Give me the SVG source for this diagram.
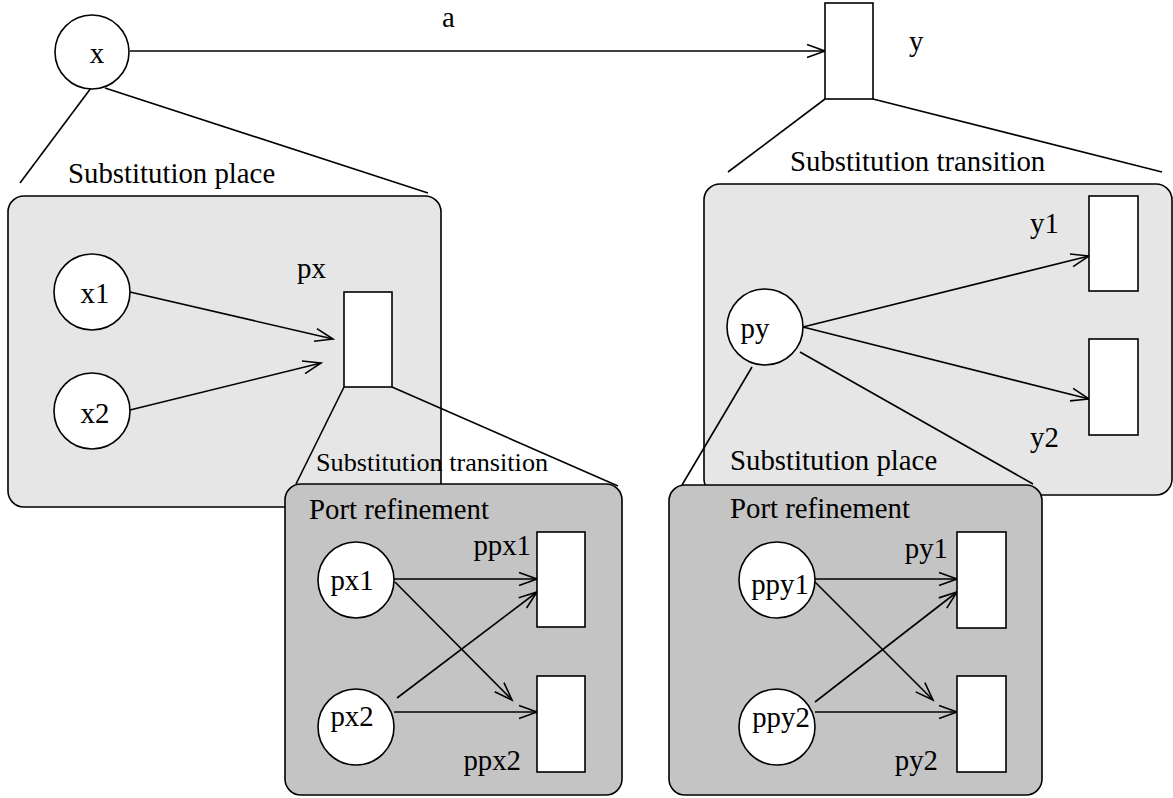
<svg xmlns="http://www.w3.org/2000/svg" width="1173" height="798" viewBox="0 0 1173 798">
<style>
text{font-family:"Liberation Serif","Times New Roman",serif;font-size:28.8px;fill:#000}
.c{text-anchor:middle}
.r{text-anchor:end}
.sm{font-size:26.2px}
.pl{fill:#fff;stroke:#000;stroke-width:1.6}
.tr{fill:#fff;stroke:#000;stroke-width:1.6}
.light{fill:#e6e6e6;stroke:#000;stroke-width:1.6}
.dark{fill:#c4c4c4;stroke:#000;stroke-width:1.6}
.ln{stroke:#000;stroke-width:1.6;fill:none}
.arr{stroke:#000;stroke-width:1.6;fill:none;marker-end:url(#ah)}
</style>
<defs>
<marker id="ah" markerUnits="userSpaceOnUse" markerWidth="22" markerHeight="16" refX="19" refY="8" orient="auto">
<path d="M1,1.5 L19,8 L1,14.5" fill="none" stroke="#000" stroke-width="1.6"/>
</marker>
</defs>

<!-- big refinement boxes -->
<g id="box-subst-place-left"><rect class="light" x="8" y="196" width="433" height="311" rx="16"/><text x="68" y="183">Substitution place</text></g>
<g id="box-subst-trans-right"><rect class="light" x="704" y="184" width="468" height="311" rx="16"/><text x="790" y="171">Substitution transition</text></g>

<!-- refinement (zoom) lines and arcs -->
<g id="connectors">
<line class="ln" x1="91" y1="88" x2="20" y2="183"/>
<line class="ln" x1="105" y1="88" x2="428" y2="193"/>
<line class="ln" x1="825" y1="99" x2="728" y2="172"/>
<line class="ln" x1="873" y1="99" x2="1162" y2="172"/>
<line class="ln" x1="344" y1="387" x2="296" y2="484"/>
<line class="ln" x1="392" y1="387" x2="618" y2="486"/>
<line class="ln" x1="752" y1="367" x2="682" y2="485"/>
<line class="ln" x1="800" y1="352" x2="1033" y2="484"/>
<line class="arr" x1="130" y1="51" x2="825" y2="51"/>
<line class="arr" x1="130" y1="292" x2="333" y2="339"/>
<line class="arr" x1="130" y1="410" x2="321" y2="363"/>
<line class="arr" x1="803" y1="327" x2="1089" y2="256"/>
<line class="arr" x1="803" y1="327" x2="1089" y2="399"/>
</g>
<text x="442" y="27">a</text>
<text class="sm" x="316" y="471">Substitution transition</text>
<text x="730" y="470">Substitution place</text>

<!-- port refinement boxes -->
<g id="box-port-left"><rect class="dark" x="285" y="484" width="337" height="311" rx="16"/><text x="309" y="519">Port refinement</text></g>
<g id="box-port-right"><rect class="dark" x="669" y="485" width="373" height="310" rx="16"/><text x="730" y="518">Port refinement</text></g>

<g id="port-connectors">
<line class="arr" x1="394" y1="579" x2="537" y2="579"/>
<line class="arr" x1="395" y1="582" x2="512" y2="700"/>
<line class="arr" x1="397" y1="698" x2="537" y2="592"/>
<line class="arr" x1="394" y1="712" x2="537" y2="712"/>
<line class="arr" x1="815" y1="579" x2="957" y2="579"/>
<line class="arr" x1="815" y1="582" x2="933" y2="700"/>
<line class="arr" x1="815" y1="702" x2="957" y2="592"/>
<line class="arr" x1="815" y1="712" x2="957" y2="712"/>
</g>

<!-- nodes -->
<g id="node-x"><circle class="pl" cx="92" cy="52" r="37"/><text class="c" x="97" y="63">x</text></g>
<g id="node-y"><rect class="tr" x="825" y="3" width="48" height="96"/><text x="909" y="51">y</text></g>
<g id="node-x1"><circle class="pl" cx="92" cy="292" r="38"/><text class="c" x="95" y="303">x1</text></g>
<g id="node-x2"><circle class="pl" cx="92" cy="411" r="38"/><text class="c" x="95" y="423">x2</text></g>
<g id="node-px"><rect class="tr" x="344" y="292" width="48" height="95"/><text x="297" y="278">px</text></g>
<g id="node-py"><circle class="pl" cx="765" cy="327" r="38"/><text class="c" x="755" y="338">py</text></g>
<g id="node-y1"><rect class="tr" x="1089" y="196" width="49" height="95"/><text x="1030" y="233">y1</text></g>
<g id="node-y2"><rect class="tr" x="1089" y="339" width="49" height="96"/><text x="1030" y="447">y2</text></g>
<g id="node-px1"><circle class="pl" cx="356" cy="580" r="38"/><text class="c" x="352" y="590">px1</text></g>
<g id="node-px2"><circle class="pl" cx="356" cy="727" r="38"/><text class="c" x="352" y="726">px2</text></g>
<g id="node-ppx1"><rect class="tr" x="537" y="532" width="48" height="95"/><text class="r" x="531" y="555">ppx1</text></g>
<g id="node-ppx2"><rect class="tr" x="537" y="676" width="48" height="96"/><text class="r" x="521" y="770">ppx2</text></g>
<g id="node-ppy1"><circle class="pl" cx="777" cy="580" r="38"/><text class="c" x="780" y="594">ppy1</text></g>
<g id="node-ppy2"><circle class="pl" cx="777" cy="727" r="38"/><text class="c" x="781" y="727">ppy2</text></g>
<g id="node-py1"><rect class="tr" x="957" y="532" width="49" height="96"/><text class="r" x="948" y="558">py1</text></g>
<g id="node-py2"><rect class="tr" x="957" y="676" width="49" height="96"/><text class="r" x="938" y="770">py2</text></g>
</svg>
